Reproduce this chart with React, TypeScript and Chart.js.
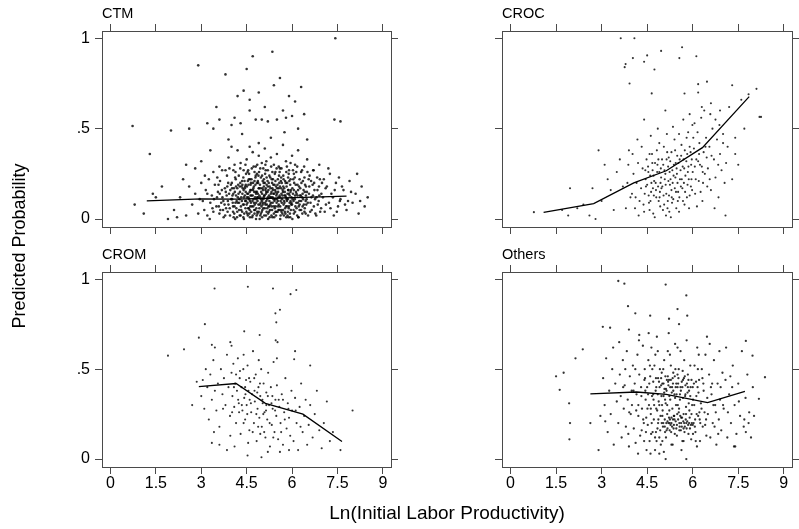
import React, { useEffect, useRef } from "react";
import { Chart, registerables } from "chart.js";
Chart.register(...registerables);

// ---------- data ----------
const X_TICKS = [0, 1.5, 3, 4.5, 6, 7.5, 9];
const Y_TICKS = [0, 0.5, 1];
const PANEL_TITLES = ["CTM", "CROC", "CROM", "Others"];
const X_TITLE = "Ln(Initial Labor Productivity)";
const Y_TITLE = "Predicted Probability";

const ctmLine: [number, number][] = [[1.2, 0.1], [3.0, 0.112], [4.2, 0.11], [5.3, 0.115], [6.4, 0.12], [7.8, 0.127]];
const crocLine: [number, number][] = [[1.09, 0.037], [2.74, 0.085], [4.06, 0.2], [5.13, 0.267], [6.32, 0.395], [7.86, 0.677]];
const cromLine: [number, number][] = [[2.92, 0.403], [4.15, 0.42], [5.12, 0.31], [6.36, 0.25], [7.65, 0.098]];
const othersLine: [number, number][] = [[2.63, 0.362], [4.15, 0.373], [5.13, 0.36], [6.49, 0.314], [7.72, 0.377]];

const ctmPoints: [number, number][] = [
  [0.73,.515],[1.3,.36],[2.0,.49],[2.9,.85],[3.2,.53],[3.4,.5],[3.6,.55],[3.8,.8],[4.0,.52],[4.1,.56],[4.3,.53],[4.4,.71],[4.5,.83],[4.6,.66],[4.7,.9],[4.8,.55],[4.9,.7],[5.0,.55],[5.1,.62],[5.2,.54],[5.35,.925],[5.4,.74],[5.5,.55],[5.6,.78],[5.7,.6],[5.8,.56],[6.0,.57],[6.1,.65],[6.3,.73],[6.4,.58],[7.43,1.0],[7.4,.55],[7.6,.54],[3.5,.62],[4.2,.68],[5.9,.68],[6.2,.5],[2.6,.5],[4.6,.6],[5.3,.45],[4.9,.42],[3.9,.44],[6.5,.44],[5.75,.48],[4.35,.47],
  [2.5,.3],[3.0,.32],[3.3,.38],[3.6,.29],[3.9,.34],[4.1,.3],[4.2,.38],[4.4,.27],[4.5,.33],[4.6,.4],[4.8,.29],[4.9,.35],[5.0,.31],[5.1,.39],[5.2,.27],[5.3,.34],[5.4,.3],[5.5,.36],[5.6,.28],[5.7,.41],[5.8,.32],[5.9,.27],[6.0,.35],[6.1,.3],[6.2,.38],[6.4,.29],[6.5,.33],[6.7,.27],[6.9,.3],[7.2,.28],[4.3,.31],[4.7,.37],[5.15,.32],[5.45,.26],[5.95,.31],[6.3,.26],[3.4,.26],[2.8,.28],[3.8,.27],[4.0,.4],
  [2.1,.05],[2.3,.12],[2.5,.02],[2.6,.18],[2.7,.08],[2.8,.14],[2.9,.03],[3.0,.2],[2.4,.22],[2.2,.01],
  [3.05,.1],[3.1,.05],[3.15,.16],[3.2,.02],[3.25,.22],[3.3,.09],[3.35,.13],[3.4,.04],[3.45,.19],[3.5,.07],[3.12,.24],[3.28,.0],[3.42,.11],
  [3.55,.15],[3.6,.03],[3.62,.21],[3.66,.09],[3.7,.12],[3.74,.01],[3.78,.17],[3.82,.06],[3.85,.24],[3.88,.1],[3.92,.14],[3.95,.02],[3.98,.19],[3.58,.07],[3.72,.05],[3.9,.08],
  [4.02,.11],[4.05,.04],[4.08,.17],[4.1,.07],[4.12,.23],[4.15,.13],[4.18,.01],[4.2,.09],[4.22,.19],[4.25,.05],[4.28,.15],[4.3,.02],[4.32,.12],[4.35,.21],[4.38,.08],[4.4,.16],[4.42,.03],[4.45,.1],[4.48,.25],[4.06,.14],[4.16,.06],[4.26,.11],[4.36,.14],[4.46,.06],[4.12,.0],[4.33,.18],[4.44,.13],[4.24,.24],
  [4.5,.08],[4.52,.14],[4.54,.02],[4.56,.19],[4.58,.11],[4.6,.05],[4.62,.16],[4.64,.09],[4.66,.22],[4.68,.01],[4.7,.13],[4.72,.07],[4.74,.18],[4.76,.03],[4.78,.12],[4.8,.24],[4.82,.06],[4.84,.15],[4.86,.1],[4.88,.2],[4.9,.04],[4.92,.13],[4.94,.08],[4.96,.17],[4.98,.11],[4.51,.12],[4.57,.06],[4.63,.13],[4.69,.1],[4.75,.15],[4.81,.09],[4.87,.14],[4.93,.0],[4.99,.07],[4.55,.27],[4.73,.29],[4.91,.26],[4.65,.04],[4.83,.02],[4.97,.23],
  [5.0,.1],[5.02,.05],[5.04,.16],[5.06,.12],[5.08,.02],[5.1,.2],[5.12,.08],[5.14,.14],[5.16,.04],[5.18,.11],[5.2,.18],[5.22,.07],[5.24,.13],[5.26,.01],[5.28,.23],[5.3,.09],[5.32,.15],[5.34,.05],[5.36,.12],[5.38,.19],[5.4,.03],[5.42,.1],[5.44,.16],[5.46,.07],[5.48,.13],[5.03,.08],[5.09,.13],[5.15,.1],[5.21,.03],[5.27,.12],[5.33,.07],[5.39,.11],[5.45,.21],[5.11,.25],[5.29,.17],[5.47,.02],[5.05,.28],[5.35,.26],
  [5.5,.11],[5.52,.04],[5.54,.15],[5.56,.08],[5.58,.2],[5.6,.12],[5.62,.02],[5.64,.17],[5.66,.09],[5.68,.13],[5.7,.05],[5.72,.22],[5.74,.1],[5.76,.15],[5.78,.03],[5.8,.12],[5.82,.18],[5.84,.07],[5.86,.11],[5.88,.01],[5.9,.14],[5.92,.09],[5.94,.19],[5.96,.05],[5.98,.12],[5.53,.1],[5.61,.07],[5.69,.16],[5.77,.06],[5.85,.14],[5.93,.03],[5.57,.24],[5.81,.26],
  [6.0,.08],[6.03,.14],[6.06,.03],[6.09,.11],[6.12,.19],[6.15,.06],[6.18,.13],[6.21,.01],[6.24,.1],[6.27,.17],[6.3,.05],[6.33,.12],[6.36,.21],[6.39,.08],[6.42,.15],[6.45,.03],[6.48,.11],[6.04,.22],[6.2,.16],[6.35,.07],[6.46,.18],[6.1,.04],
  [6.52,.09],[6.56,.14],[6.6,.04],[6.64,.12],[6.68,.19],[6.72,.07],[6.76,.11],[6.8,.02],[6.84,.16],[6.88,.1],[6.92,.22],[6.96,.06],[6.58,.24],[6.74,.16],[6.9,.13],
  [7.02,.12],[7.08,.04],[7.15,.18],[7.22,.09],[7.3,.14],[7.38,.02],[7.45,.2],[7.52,.07],[7.6,.11],[7.7,.16],[7.8,.05],[7.9,.21],[8.0,.09],[8.1,.14],[8.2,.03],[8.3,.18],[8.4,.07],[8.5,.12],[7.25,.25],[7.55,.23],[8.15,.25],
  [0.8,.08],[1.1,.03],[1.5,.12],[1.7,.18],[1.9,.0],[1.4,.14],
  [4.01,.2],[4.04,.09],[4.07,.01],[4.11,.15],[4.14,.22],[4.17,.1],[4.19,.04],[4.23,.14],[4.27,.02],[4.29,.2],[4.31,.07],[4.34,.1],[4.37,.17],[4.39,.01],[4.41,.12],[4.43,.21],[4.47,.15],[4.49,.04],
  [4.51,.18],[4.53,.09],[4.55,.14],[4.57,.22],[4.59,.03],[4.61,.1],[4.63,.19],[4.67,.07],[4.71,.2],[4.73,.11],[4.77,.08],[4.79,.19],[4.81,.14],[4.85,.04],[4.87,.21],[4.89,.08],[4.91,.17],[4.95,.12],[4.97,.03],
  [5.01,.14],[5.03,.21],[5.05,.06],[5.07,.18],[5.11,.09],[5.13,.17],[5.17,.08],[5.19,.15],[5.23,.2],[5.25,.1],[5.27,.05],[5.31,.12],[5.33,.22],[5.35,.01],[5.37,.16],[5.41,.14],[5.43,.06],[5.47,.18],[5.49,.09],
  [5.51,.17],[5.55,.05],[5.59,.13],[5.63,.21],[5.65,.04],[5.67,.11],[5.71,.18],[5.73,.02],[5.75,.09],[5.79,.2],[5.83,.1],[5.87,.16],[5.89,.06],[5.91,.21],[5.95,.15],[5.97,.08],
  [6.01,.17],[6.05,.1],[6.07,.2],[6.11,.07],[6.13,.15],[6.17,.02],[6.19,.09],[6.23,.18],[6.25,.05],[6.29,.13],[6.31,.2],[6.37,.11],[6.41,.04],[6.43,.19],[6.47,.08],[6.49,.15],
  [6.53,.02],[6.57,.18],[6.61,.09],[6.65,.05],[6.69,.13],[6.73,.2],[6.77,.03],[6.81,.12],[6.85,.08],[6.89,.18],[6.93,.04],[6.97,.14],
  [3.52,.12],[3.57,.19],[3.63,.05],[3.68,.16],[3.73,.1],[3.79,.02],[3.84,.13],[3.89,.2],[3.94,.06],[3.99,.11],
  [4.06,.27],[4.46,.3],[4.76,.26],[5.12,.3],[5.56,.29],[5.87,.23],[6.14,.26],[6.55,.22],[7.05,.22],
  [7.12,.08],[7.35,.12],[7.48,.04],[7.65,.18],[7.85,.1],[3.2,.14],[3.37,.06],[2.95,.11],
  [4.32,.05],[4.36,.19],[4.41,.08],[4.44,.17],[4.48,.1],[4.52,.03],[4.54,.21],[4.56,.12],[4.6,.15],[4.62,.07],[4.64,.2],[4.66,.13],[4.7,.02],[4.72,.17],[4.74,.09],[4.76,.21],[4.78,.05],[4.8,.15],[4.82,.11],[4.84,.2],[4.86,.03],[4.88,.12],[4.9,.17],[4.92,.06],[4.94,.19],[4.96,.09],[4.98,.15],
  [5.0,.04],[5.02,.17],[5.04,.09],[5.06,.2],[5.08,.13],[5.1,.06],[5.12,.16],[5.14,.02],[5.16,.19],[5.18,.06],[5.2,.12],[5.22,.16],[5.24,.04],[5.26,.18],[5.28,.08],[5.3,.14],[5.32,.02],[5.34,.2],[5.36,.09],[5.38,.14],[5.4,.07],[5.42,.19],[5.44,.11],[5.46,.15],[5.48,.04],
  [5.5,.14],[5.52,.19],[5.54,.07],[5.56,.17],[5.58,.05],[5.6,.18],[5.62,.1],[5.64,.05],[5.66,.2],[5.68,.03],[5.7,.15],[5.72,.08],[5.74,.17],[5.76,.04],[5.78,.13],[5.8,.07],[5.82,.11],[5.84,.2],[5.86,.04],[5.88,.16],[5.9,.07],[5.92,.13],[5.94,.01],[5.96,.16],[5.98,.09],
  [6.02,.11],[6.06,.16],[6.1,.13],[6.14,.09],[6.18,.19],[6.22,.07],[6.26,.13],[6.3,.1],[6.34,.03],[6.38,.16],[6.42,.06],[6.46,.13],
  [4.02,.17],[4.09,.03],[4.13,.09],[4.21,.12],[4.27,.18],[3.81,.15],[3.87,.04],[3.96,.16],[4.58,.25],[5.16,.23],[5.64,.23],[6.06,.25],[4.84,.25],
  [3.53,.23],[3.61,.14],[3.69,.27],[3.77,.08],[3.86,.18],[3.93,.28],[4.03,.13],[4.13,.26],[4.19,.17],[4.29,.28],[4.39,.23],[4.47,.19],[4.53,.26],[4.61,.22],[4.67,.28],[4.71,.16],[4.79,.23],[4.85,.3],[4.89,.24],[4.95,.28],[5.01,.24],[5.07,.22],[5.13,.27],[5.19,.21],[5.25,.24],[5.31,.29],[5.37,.22],[5.43,.25],[5.49,.28],[5.53,.22],[5.59,.26],[5.65,.28],[5.71,.24],[5.77,.21],[5.83,.29],[5.89,.25],[5.95,.22],[6.03,.27],[6.09,.23],[6.17,.29],[6.25,.22],[6.33,.27],[6.41,.23],[6.51,.26],[6.63,.21],[6.71,.27],[6.83,.23],[6.99,.2],[7.11,.17],[7.27,.06],[7.41,.16],[7.58,.1],[7.75,.08],[7.95,.15],[8.25,.1],
  [4.55,.06],[4.65,.16],[4.75,.05],[4.85,.12],[4.95,.02],[5.05,.11],[5.15,.15],[5.25,.07],[5.35,.17],[5.45,.04],[5.55,.12],[5.65,.14],[5.75,.13],[5.85,.02],[5.95,.1],[6.05,.05],[6.15,.14],[6.25,.08],[6.35,.14],[6.45,.1],[4.35,.04],[4.45,.18],[4.25,.09],[4.15,.18],[4.05,.07],
  [5.01,.01],[5.21,.0],[5.41,.01],[5.61,.0],[5.81,.01],[4.81,.0],[4.61,.01],[6.01,.0],[6.21,.01],[4.41,.0]
];

const crocPoints: [number, number][] = [
  [3.63,1.0],[4.08,1.0],[5.65,.95],[4.96,.93],[4.5,.905],[4.03,.89],[6.12,.9],[5.56,.89],[4.4,.87],[3.79,.857],[3.76,.84],[4.74,.827],[3.92,.75],[6.47,.76],[6.18,.746],[7.3,.74],[8.1,.72],[4.65,.695],[5.73,.694],[6.18,.7],[7.84,.69],[8.2,.565],[8.25,.565],[7.6,.66],[7.2,.62],[6.6,.64],[6.9,.6],[5.1,.6],[4.4,.55],[7.7,.5],[7.0,.42],[7.4,.45],[6.3,.62],[5.9,.58],[6.75,.55],[7.4,.36],[7.3,.22],[7.5,.3],
  [0.77,.038],[1.7,.05],[1.96,.17],[2.7,.17],[2.9,.38],[3.1,.3],[2.2,.06],[2.6,.02],[3.0,.1],[3.3,.16],[3.5,.26],[2.4,.08],[1.9,.02],[3.4,.05],[3.6,.33],[3.2,.22],[3.7,.18],[3.8,.06],[2.8,.0],[3.9,.38],
  [4.0,.14],[4.05,.25],[4.1,.06],[4.15,.2],[4.2,.31],[4.25,.1],[4.3,.17],[4.35,.28],[4.4,.04],[4.45,.22],[4.02,.36],[4.12,.12],[4.22,.02],[4.32,.4],[4.42,.14],[4.48,.33],[4.18,.44],[4.38,.08],
  [4.5,.19],[4.53,.29],[4.56,.09],[4.6,.24],[4.63,.15],[4.66,.36],[4.7,.03],[4.73,.21],[4.76,.31],[4.8,.12],[4.83,.26],[4.86,.18],[4.9,.42],[4.93,.07],[4.96,.23],[4.99,.33],[4.55,.13],[4.62,.46],[4.69,.17],[4.75,.01],[4.82,.38],[4.88,.1],[4.95,.28],[4.58,.05],[4.78,.2],[4.92,.15],[4.68,.27],[4.85,.5],
  [5.0,.18],[5.03,.3],[5.06,.08],[5.1,.25],[5.13,.14],[5.16,.37],[5.2,.21],[5.23,.04],[5.26,.32],[5.3,.16],[5.33,.27],[5.36,.11],[5.4,.44],[5.43,.23],[5.46,.06],[5.49,.35],[5.05,.4],[5.12,.02],[5.19,.29],[5.25,.19],[5.32,.09],[5.38,.3],[5.45,.15],[5.08,.22],[5.22,.13],[5.35,.51],[5.48,.25],[5.15,.47],[5.28,.01],[5.42,.38],
  [5.5,.2],[5.53,.31],[5.56,.12],[5.6,.27],[5.63,.41],[5.66,.17],[5.7,.33],[5.73,.08],[5.76,.24],[5.8,.45],[5.83,.19],[5.86,.29],[5.9,.13],[5.93,.37],[5.96,.22],[5.99,.52],[5.55,.04],[5.62,.35],[5.69,.55],[5.75,.15],[5.82,.36],[5.88,.06],[5.95,.3],[5.58,.22],[5.72,.28],[5.85,.48],[5.98,.16],
  [6.0,.26],[6.04,.39],[6.08,.14],[6.12,.33],[6.16,.48],[6.2,.21],[6.24,.3],[6.28,.56],[6.32,.1],[6.36,.37],[6.4,.25],[6.44,.45],[6.48,.18],[6.06,.53],[6.14,.07],[6.22,.42],[6.3,.29],[6.38,.6],[6.46,.34],[6.1,.22],
  [6.5,.28],[6.55,.4],[6.6,.16],[6.65,.5],[6.7,.33],[6.75,.23],[6.8,.44],[6.85,.12],[6.9,.36],[6.95,.27],[7.0,.47],[7.05,.2],[7.1,.31],[7.15,.4],[6.58,.58],[6.72,.06],[6.88,.52],[7.08,.02],[6.62,.35],
  [3.85,.2],[3.95,.12],[3.88,.3],
  [4.44,.27],[4.64,.2],[4.72,.13],[4.84,.3],[4.94,.2],[5.04,.13],[5.14,.33],[5.18,.1],[5.24,.26],[5.34,.2],[5.44,.31],[5.52,.15],[5.64,.22],[5.74,.38],[5.84,.26],[5.94,.18],[6.02,.45],[6.18,.32],[6.26,.15],[6.42,.4],[5.02,.05],[4.9,.26],[4.58,.36],[5.3,.37],[5.68,.1],[6.34,.2],[6.56,.22],[6.84,.3],[5.9,.4],[5.55,.47],
  [4.46,.18],[4.54,.26],[4.61,.1],[4.67,.31],[4.71,.24],[4.79,.16],[4.87,.33],[4.91,.12],[4.97,.17],[5.07,.27],[5.11,.19],[5.17,.06],[5.21,.34],[5.27,.22],[5.31,.12],[5.37,.24],[5.41,.17],[5.47,.28],[5.51,.1],[5.57,.33],[5.61,.18],[5.67,.29],[5.71,.2],[5.79,.32],[5.81,.12],[5.87,.22],[5.97,.33],[6.07,.29],[6.21,.36],[6.33,.26]
];

const cromPoints: [number, number][] = [
  [3.44,.948],[4.54,.958],[5.37,.948],[6.14,.94],[5.95,.917],[5.6,.83],[5.45,.81],[5.48,.76],[3.12,.75],[4.93,.69],[4.42,.71],[2.92,.675],[1.9,.575],[2.43,.61],[3.35,.635],[3.96,.65],[5.46,.66],[5.52,.65],[6.1,.6],[6.07,.555],[6.6,.52],[8.0,.27],[7.6,.05],[4.53,.02],[4.99,.01],[3.85,.05],[3.35,.09],[3.96,.13],[3.42,.15],
  [3.0,.35],[3.05,.44],[3.1,.28],[3.15,.5],[3.2,.4],[3.25,.22],[3.3,.47],[3.35,.33],[3.4,.55],[3.45,.38],[3.5,.27],[3.55,.42],[3.6,.18],[3.65,.5],[3.7,.36],[3.75,.45],[3.8,.3],[3.85,.58],[3.9,.4],[3.95,.24],
  [4.0,.48],[4.03,.35],[4.06,.53],[4.09,.29],[4.12,.42],[4.15,.2],[4.18,.38],[4.21,.56],[4.24,.31],[4.27,.45],[4.3,.14],[4.33,.4],[4.36,.27],[4.39,.5],[4.42,.34],[4.45,.22],[4.48,.44],
  [4.5,.3],[4.53,.52],[4.56,.38],[4.59,.16],[4.62,.43],[4.65,.26],[4.68,.36],[4.71,.6],[4.74,.2],[4.77,.32],[4.8,.47],[4.83,.1],[4.86,.28],[4.89,.4],[4.92,.23],[4.95,.35],[4.98,.5],
  [5.0,.18],[5.03,.31],[5.06,.42],[5.09,.26],[5.12,.12],[5.15,.37],[5.18,.22],[5.21,.48],[5.24,.3],[5.27,.07],[5.3,.4],[5.33,.19],[5.36,.28],[5.39,.54],[5.42,.15],[5.45,.33],[5.48,.24],
  [5.5,.41],[5.54,.11],[5.58,.29],[5.62,.2],[5.66,.36],[5.7,.08],[5.74,.26],[5.78,.45],[5.82,.17],[5.86,.31],[5.9,.23],[5.94,.13],[5.98,.38],
  [6.0,.27],[6.05,.1],[6.1,.34],[6.15,.2],[6.2,.05],[6.25,.29],[6.3,.42],[6.35,.15],[6.4,.24],[6.45,.33],[6.5,.08],
  [6.55,.19],[6.6,.3],[6.68,.12],[6.75,.25],[6.82,.38],[6.9,.16],[6.98,.06],[7.05,.2],[7.15,.32],[7.25,.1],[7.35,.15],[2.7,.3],[2.85,.43],[3.6,.08],[4.1,.07],[4.55,.09],[5.2,.04],[5.6,.04],[5.9,.05],[4.4,.58],[4.9,.55],[5.5,.56],[3.45,.62],[4.0,.63],[4.75,.45],[4.25,.26],[4.6,.33],[4.85,.37],[5.05,.25],[5.35,.35],[4.45,.4],[4.15,.47],[5.7,.33],[4.95,.14],[5.15,.3],
  [4.02,.26],[4.08,.4],[4.22,.33],[4.28,.49],[4.34,.3],[4.4,.2],[4.46,.36],[4.52,.25],[4.58,.45],[4.64,.31],[4.7,.15],[4.76,.38],[4.82,.25],[4.88,.18],[4.94,.42],[5.02,.33],[5.08,.15],[5.14,.27],[5.2,.35],[5.26,.2],[5.32,.31],[5.38,.12],[5.44,.27],[5.56,.33],[5.64,.15],[5.76,.22],[5.88,.28],[6.12,.27],[6.28,.18],[3.72,.28]
];

const othersPoints: [number, number][] = [
  [3.55,.99],[3.75,.975],[3.87,.85],[4.11,.81],[3.04,.735],[3.28,.73],[3.9,.72],[4.24,.69],[2.38,.61],[2.14,.56],[1.75,.48],[1.5,.46],[1.62,.385],[1.93,.31],[1.96,.2],[1.94,.11],[2.9,.05],[2.63,.2],[2.96,.24],
  [5.11,.97],[5.79,.91],[5.5,.834],[5.82,.797],[4.6,.797],[5.22,.78],[5.55,.75],[7.75,.657],[7.97,.575],[8.38,.455],[8.18,.335],[8.02,.24],[7.75,.15],[7.36,.07],[5.79,.0],[5.11,.0],[4.9,.03],
  [3.05,.45],[3.1,.3],[3.15,.56],[3.2,.15],[3.25,.38],[3.3,.25],[3.35,.5],[3.4,.08],[3.45,.42],[3.5,.32],[3.12,.21],[3.38,.62],
  [3.55,.2],[3.6,.47],[3.63,.35],[3.66,.12],[3.7,.55],[3.73,.28],[3.76,.41],[3.8,.18],[3.83,.6],[3.86,.33],[3.9,.07],[3.93,.46],[3.96,.25],[3.99,.38],[3.58,.65],[3.78,.5],[3.88,.14],
  [4.0,.3],[4.03,.52],[4.06,.17],[4.09,.42],[4.12,.09],[4.15,.36],[4.18,.58],[4.21,.24],[4.24,.47],[4.27,.13],[4.3,.4],[4.33,.28],[4.36,.63],[4.39,.2],[4.42,.5],[4.45,.33],[4.48,.05],[4.05,.38],[4.14,.27],[4.23,.66],[4.32,.16],[4.41,.44],[4.47,.23],[4.2,.03],
  [4.5,.4],[4.52,.19],[4.54,.55],[4.56,.3],[4.58,.1],[4.6,.46],[4.62,.25],[4.64,.62],[4.66,.35],[4.68,.15],[4.7,.43],[4.72,.22],[4.74,.52],[4.76,.05],[4.78,.38],[4.8,.28],[4.82,.68],[4.84,.17],[4.86,.45],[4.88,.32],[4.9,.12],[4.92,.5],[4.94,.24],[4.96,.41],[4.98,.2],[4.53,.36],[4.59,.52],[4.65,.2],[4.71,.33],[4.77,.58],[4.83,.27],[4.89,.43],[4.95,.08],[4.61,.03],[4.79,.15],[4.97,.35],[4.55,.7],
  [5.0,.42],[5.02,.18],[5.04,.35],[5.06,.55],[5.08,.22],[5.1,.46],[5.12,.12],[5.14,.38],[5.16,.25],[5.18,.6],[5.2,.2],[5.22,.44],[5.24,.16],[5.26,.33],[5.28,.52],[5.3,.23],[5.32,.4],[5.34,.08],[5.36,.48],[5.38,.19],[5.4,.36],[5.42,.64],[5.44,.21],[5.46,.42],[5.48,.13],[5.01,.27],[5.07,.39],[5.13,.2],[5.19,.43],[5.25,.22],[5.31,.37],[5.37,.17],[5.43,.5],[5.49,.25],[5.05,.04],[5.21,.7],[5.33,.28],[5.45,.3],[5.11,.31],[5.29,.15],
  [5.5,.4],[5.52,.22],[5.54,.5],[5.56,.16],[5.58,.36],[5.6,.6],[5.62,.2],[5.64,.43],[5.66,.1],[5.68,.34],[5.7,.25],[5.72,.55],[5.74,.18],[5.76,.41],[5.78,.29],[5.8,.66],[5.82,.21],[5.84,.47],[5.86,.14],[5.88,.38],[5.9,.23],[5.92,.52],[5.94,.19],[5.96,.44],[5.98,.3],[5.55,.28],[5.63,.05],[5.71,.45],[5.79,.2],[5.87,.31],[5.95,.11],[5.59,.24],[5.83,.37],[5.91,.17],
  [6.0,.4],[6.03,.2],[6.06,.52],[6.09,.15],[6.12,.35],[6.15,.62],[6.18,.24],[6.21,.44],[6.24,.1],[6.27,.31],[6.3,.5],[6.33,.18],[6.36,.38],[6.39,.26],[6.42,.58],[6.45,.13],[6.48,.34],[6.05,.3],[6.14,.07],[6.23,.22],[6.32,.45],[6.41,.19],[6.47,.68],
  [6.5,.25],[6.54,.47],[6.58,.12],[6.62,.36],[6.66,.2],[6.7,.55],[6.74,.3],[6.78,.08],[6.82,.42],[6.86,.22],[6.9,.33],[6.94,.16],[6.98,.48],[6.56,.64],[6.72,.18],[6.88,.6],
  [7.02,.28],[7.08,.44],[7.14,.12],[7.2,.36],[7.26,.2],[7.32,.52],[7.38,.3],[7.44,.14],[7.5,.42],[7.56,.24],[7.62,.6],[7.68,.18],[7.74,.34],[7.8,.47],[7.86,.26],[7.92,.12],[7.98,.4],[7.1,.62],[7.4,.07],[7.7,.22],
  [4.51,.28],[4.57,.42],[4.63,.14],[4.67,.5],[4.73,.3],[4.79,.45],[4.81,.1],[4.85,.36],[4.87,.22],[4.91,.4],[4.93,.16],[4.99,.3],
  [5.03,.5],[5.09,.15],[5.15,.44],[5.17,.21],[5.23,.35],[5.27,.19],[5.35,.42],[5.39,.24],[5.41,.14],[5.47,.36],[5.03,.2],[5.23,.27],[5.41,.46],[5.17,.17],[5.09,.33],[5.35,.22],
  [5.51,.3],[5.53,.45],[5.57,.18],[5.61,.38],[5.65,.23],[5.67,.49],[5.73,.15],[5.75,.35],[5.77,.22],[5.81,.42],[5.85,.19],[5.89,.27],[5.93,.4],[5.97,.2],[5.61,.16],[5.69,.21],
  [6.01,.33],[6.07,.18],[6.11,.43],[6.13,.25],[6.19,.37],[6.25,.2],[6.29,.28],[6.35,.42],[6.01,.14],[6.17,.5],
  [4.31,.35],[4.37,.22],[4.43,.45],[4.21,.3],[4.11,.5],[4.46,.15],[3.71,.4],[3.91,.26],
  [6.6,.4],[6.76,.26],[6.92,.4],[6.68,.3],[7.16,.26],[7.3,.4],[5.5,.62],[5.25,.58],[4.85,.6],[6.2,.58],
  [4.8,.4],[4.86,.2],[4.9,.3],[4.96,.45],[5.0,.24],[5.04,.42],[5.08,.18],[5.12,.39],[5.16,.3],[5.2,.41],[5.24,.2],[5.28,.44],[5.32,.18],[5.36,.38],[5.4,.22],[5.44,.4],[5.48,.19],[5.52,.42],[5.56,.2],[5.6,.4],[5.64,.18],[5.68,.44],[5.72,.2],[5.76,.36],[5.8,.17],[5.84,.4],[5.88,.2],[5.92,.35],[5.96,.25],[6.04,.42],[6.08,.22],[6.16,.4],[6.22,.26],
  [5.14,.16],[5.22,.23],[5.3,.2],[5.38,.24],[5.46,.17],[5.54,.26],[5.62,.23],[5.7,.17],[5.78,.25],[6.0,.19],
  [5.06,.37],[5.18,.46],[5.26,.4],[5.34,.45],[5.42,.34],[5.5,.47],[5.58,.33],[5.66,.4],[5.74,.46],[5.86,.44],[4.98,.48],[4.7,.36],[4.62,.28],[4.44,.38],[4.4,.1],[4.76,.12],[5.0,.1],[5.3,.08],[5.7,.1],[6.1,.1],[6.44,.22],[6.64,.42],[6.84,.14],[7.0,.3],[7.24,.46],[7.52,.32],[7.84,.2]
];

const PANEL_POINTS = [ctmPoints, crocPoints, cromPoints, othersPoints];
const PANEL_LINES = [ctmLine, crocLine, cromLine, othersLine];

// ---------- layout / style ----------
const W = 799;
const H = 529;
const BOXES = [
  { l: 102, r: 391, t: 31, b: 227 },
  { l: 502, r: 792, t: 31, b: 227 },
  { l: 102, r: 391, t: 272, b: 467 },
  { l: 502, r: 792, t: 272, b: 467 },
];
const POINT_RADIUS = [1.3, 1.05, 1.05, 1.15];
const X_RANGE = { min: -0.28, max: 9.27 };
const Y_RANGE = { min: -0.044, max: 1.04 };
const AXW = { left: 45, right: 6, top: 10, bottom: 30 };
const GREY = "#4a4a4a";
const SANS = "'Liberation Sans', Arial, Helvetica, sans-serif";
const NARROW = "'Liberation Sans Narrow', 'Liberation Sans', Arial, sans-serif";

function fitter(position: "left" | "right" | "top" | "bottom") {
  return (s: any) => {
    if (position === "left" || position === "right") s.width = AXW[position];
    else s.height = AXW[position];
    s.paddingLeft = 0; s.paddingRight = 0; s.paddingTop = 0; s.paddingBottom = 0;
  };
}

function axis(kind: "x" | "y", position: "left" | "right" | "top" | "bottom", showLabels: boolean) {
  const isX = kind === "x";
  const range = isX ? X_RANGE : Y_RANGE;
  const vals = isX ? X_TICKS : Y_TICKS;
  return {
    type: "linear",
    position,
    min: range.min,
    max: range.max,
    afterBuildTicks: (s: any) => { s.ticks = vals.map((v) => ({ value: v })); },
    afterFit: fitter(position),
    grid: { drawOnChartArea: false, drawTicks: true, tickLength: 7, color: GREY, tickColor: GREY, lineWidth: 1 },
    border: { display: true, color: GREY, width: 1 },
    ticks: {
      display: showLabels,
      autoSkip: false,
      maxRotation: 0,
      color: "#000",
      padding: isX ? 0 : 5,
      font: { family: NARROW, size: 16 },
      callback: (v: number) => String(v).replace(/^0\./, "."),
    },
  };
}

function makeConfig(i: number) {
  const box = BOXES[i];
  const showX = i >= 2;
  const showY = i % 2 === 0;
  const textPlugin = {
    id: "panelText" + i,
    afterDraw(chart: any) {
      const ctx = chart.ctx;
      ctx.save();
      ctx.fillStyle = "#000";
      ctx.textBaseline = "alphabetic";
      ctx.textAlign = "left";
      ctx.font = `14.5px ${SANS}`;
      ctx.fillText(PANEL_TITLES[i], box.l, box.t - 13);
      if (i === 0) {
        ctx.font = `19px ${SANS}`;
        ctx.textAlign = "center";
        ctx.fillText(X_TITLE, (BOXES[0].l + BOXES[1].r) / 2, 519);
        ctx.translate(25, 246);
        ctx.rotate(-Math.PI / 2);
        ctx.font = `18px ${SANS}`;
        ctx.fillText(Y_TITLE, 0, 0);
      }
      ctx.restore();
    },
  };
  return {
    type: "scatter",
    data: {
      datasets: [
        {
          data: PANEL_LINES[i].map(([x, y]) => ({ x, y })),
          showLine: true,
          borderColor: "#000",
          borderWidth: 1.3,
          pointRadius: 0,
          tension: 0,
          xAxisID: "x",
          yAxisID: "y",
        },
        {
          data: PANEL_POINTS[i].map(([x, y]) => ({ x, y })),
          showLine: false,
          pointRadius: POINT_RADIUS[i],
          pointBorderWidth: 0,
          pointBackgroundColor: "rgba(0,0,0,0.8)",
          xAxisID: "x",
          yAxisID: "y",
        },
      ],
    },
    options: {
      animation: false,
      responsive: false,
      devicePixelRatio: 1,
      events: [],
      layout: {
        padding: {
          left: box.l - AXW.left,
          right: W - box.r - AXW.right,
          top: box.t - AXW.top,
          bottom: H - box.b - AXW.bottom,
        },
      },
      plugins: { legend: { display: false }, tooltip: { enabled: false }, title: { display: false } },
      scales: {
        x: axis("x", "bottom", showX),
        x2: axis("x", "top", false),
        y: axis("y", "left", showY),
        y2: axis("y", "right", false),
      },
    },
    plugins: [textPlugin],
  };
}

export default function App() {
  const refs = [useRef<HTMLCanvasElement>(null), useRef<HTMLCanvasElement>(null), useRef<HTMLCanvasElement>(null), useRef<HTMLCanvasElement>(null)];
  useEffect(() => {
    const charts = refs.map((r, i) => new Chart(r.current as HTMLCanvasElement, makeConfig(i) as any));
    return () => charts.forEach((c) => c.destroy());
  }, []);
  return (
    <div style={{ position: "absolute", left: 0, top: 0, width: W, height: H, background: "#fff", overflow: "hidden" }}>
      {refs.map((r, i) => (
        <canvas key={i} ref={r} width={W} height={H} style={{ position: "absolute", left: 0, top: 0, width: W, height: H }} />
      ))}
    </div>
  );
}
